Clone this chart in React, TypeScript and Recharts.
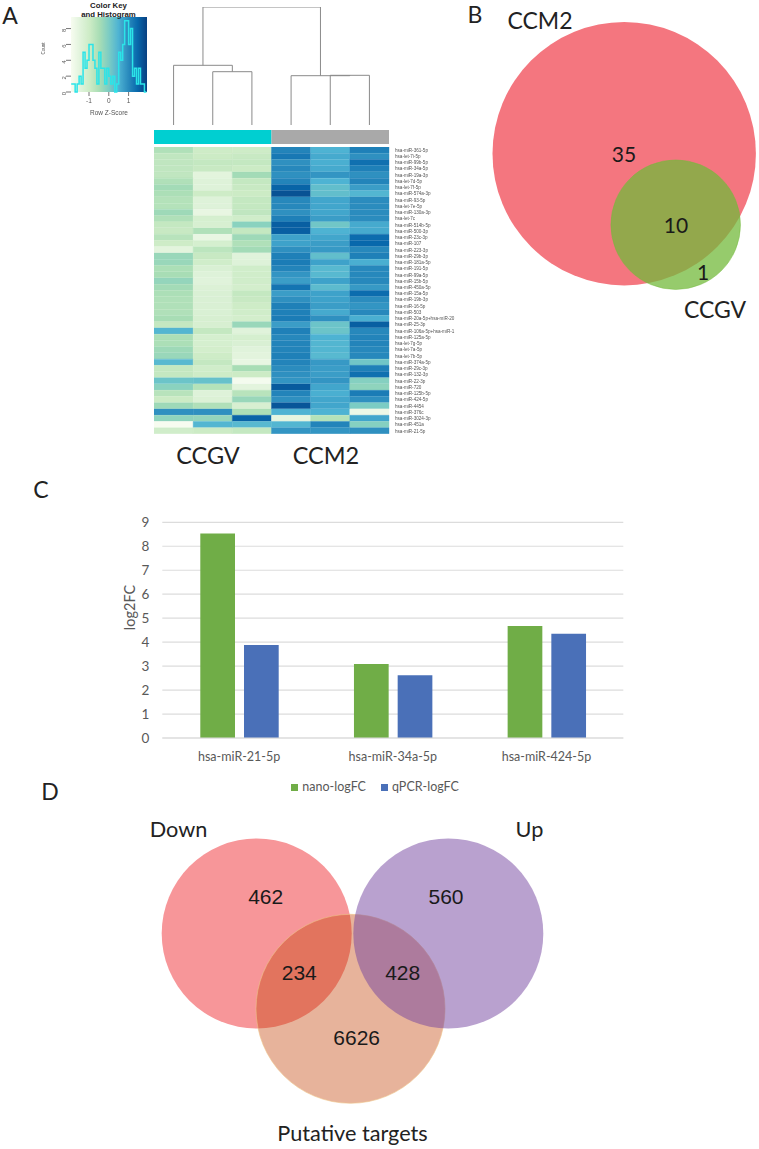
import * as React from 'react'
import {
  Bar,
  BarChart,
  CartesianGrid,
  Cell,
  ComposedChart,
  LabelList,
  Legend,
  Line,
  LineChart,
  ReferenceArea,
  Scatter,
  ScatterChart,
  XAxis,
  YAxis
} from 'recharts'

// panel A: heatmap rows, one z-score list per sample
const miRNAs = [
  'hsa-miR-361-5p', 'hsa-let-7i-5p', 'hsa-miR-99b-5p', 'hsa-miR-34a-5p', 'hsa-miR-19a-3p', 'hsa-let-7d-5p',
  'hsa-let-7f-5p', 'hsa-miR-574a-3p', 'hsa-miR-93-5p', 'hsa-let-7e-5p', 'hsa-miR-130a-3p', 'hsa-let-7c',
  'hsa-miR-514b-5p', 'hsa-miR-500-3p', 'hsa-miR-23c-3p', 'hsa-miR-107', 'hsa-miR-223-3p', 'hsa-miR-29b-3p',
  'hsa-miR-181a-5p', 'hsa-miR-191-5p', 'hsa-miR-99a-5p', 'hsa-miR-15b-5p', 'hsa-miR-450a-5p', 'hsa-miR-15a-5p',
  'hsa-miR-19b-3p', 'hsa-miR-16-5p', 'hsa-miR-503', 'hsa-miR-20a-5p+hsa-miR-20', 'hsa-miR-25-3p',
  'hsa-miR-106a-5p+hsa-miR-1', 'hsa-miR-125a-5p', 'hsa-let-7g-5p', 'hsa-let-7a-5p', 'hsa-let-7b-5p',
  'hsa-miR-374a-5p', 'hsa-miR-29c-3p', 'hsa-miR-132-3p', 'hsa-miR-22-3p', 'hsa-miR-720', 'hsa-miR-125b-5p',
  'hsa-miR-424-5p', 'hsa-miR-4454', 'hsa-miR-376c', 'hsa-miR-3024-3p', 'hsa-miR-451a', 'hsa-miR-21-5p'
]
const ccgv1 = [
  -0.55, -0.75, -0.75, -0.75, -0.75, -0.55, -0.4, -0.5, -0.6, -0.6, -0.35, -0.55, -0.8, -0.85, -0.65, -0.95,
  -1.4, -0.3, -0.3, -0.5, -0.45, -0.25, -0.4, -0.5, -0.55, -0.55, -0.55, -0.45, -0.8, 0.4, -0.5, -0.5, -0.35,
  -0.3, 0.35, -0.8, -0.8, 0.15, -0.15, -0.65, -0.9, -0.35, 0.85, -0.2, -1.8, -1.0
]
const ccgv2 = [
  -0.95, -0.9, -0.8, -0.85, -1.4, -1.3, -1.3, -0.95, -1.3, -1.3, -1.5, -1.1, -1.15, -0.55, -1.5, -1.1, -0.7,
  -0.85, -1.0, -1.2, -1.3, -1.35, -1.25, -1.2, -1.2, -1.2, -1.2, -1.15, -1.15, -0.8, -1.1, -1.1, -1.05, -0.95,
  -0.8, -1.0, -0.95, 0.2, -0.6, -1.3, -1.25, -0.55, 0.85, -0.25, 0.4, -0.9
]
const ccgv3 = [
  -0.95, -0.85, -0.8, -0.9, -0.4, -0.8, -0.85, -0.9, -0.8, -0.8, -0.75, -1.0, -0.15, -0.8, -0.35, -0.55, -0.4,
  -1.35, -1.3, -1.0, -1.0, -1.0, -1.05, -0.8, -0.85, -0.95, -1.0, -1.05, -0.3, -1.35, -1.1, -1.2, -1.35, -1.4,
  -1.5, -0.45, -0.9, -1.75, -1.4, -0.65, -0.3, -1.15, -0.5, 1.4, 0.35, -0.8
]
const ccm1 = [
  1.0, 1.15, 0.85, 0.95, 0.85, 1.0, 1.4, 1.6, 0.95, 0.95, 0.85, 1.05, 1.45, 1.45, 0.65, 0.65, 0.85, 1.05, 1.1,
  1.0, 0.8, 0.7, 1.2, 0.7, 0.85, 1.05, 1.05, 1.1, 0.7, 1.05, 0.95, 1.0, 1.0, 1.05, 1.0, 0.9, 0.85, 0.8, 1.5,
  1.0, 0.85, 1.55, 0.45, -1.45, 0.4, 0.8
]
const ccm2 = [
  0.45, 0.55, 0.5, 0.55, 0.8, 0.45, 0.25, 0.25, 0.6, 0.6, 0.6, 0.7, 0.1, 0.45, 0.6, 0.7, 0.75, 0.25, 0.65, 0.35,
  0.35, 0.65, 0.3, 0.65, 0.65, 0.7, 0.55, 0.85, 0.15, 0.15, 0.45, 0.4, 0.4, 0.35, 0.75, 0.7, 0.7, 0.8, 0.6, 0.5,
  0.6, 0.6, 0.45, -0.6, 1.0, 0.8
]
const ccm3 = [
  1.05, 0.85, 1.25, 1.05, 0.85, 1.0, 0.7, 0.4, 0.9, 0.9, 0.9, 0.9, 0.55, 0.55, 1.3, 1.35, 0.95, 1.05, 0.5, 0.95,
  0.95, 0.95, 0.75, 1.3, 0.9, 0.8, 0.95, 0.5, 1.45, 0.95, 1.0, 1.0, 0.95, 0.95, 0.1, 1.05, 1.25, -0.1, -0.2,
  1.1, 0.85, 0.0, -1.6, 0.6, -0.1, 0.85
]
const samples = [ccgv1, ccgv2, ccgv3, ccm1, ccm2, ccm3]

// panel A: colour key histogram
const histBins = [
  -1.9, -1.8, -1.7, -1.6, -1.5, -1.4, -1.3, -1.2, -1.1, -1, -0.9, -0.8, -0.7, -0.6, -0.5, -0.4, -0.3, -0.2, -0.1, 0,
  0.1, 0.2, 0.3, 0.4, 0.5, 0.6, 0.7, 0.8, 0.9, 1, 1.1, 1.2, 1.3, 1.4, 1.5, 1.6, 1.7, 1.8, 1.9
]
const histCounts = [
  1, 1, 0, 1, 2, 1, 5, 3, 4, 6, 6, 4, 3, 1, 5, 3, 3, 1, 3, 2, 1, 2, 0, 1, 5, 4, 6, 9, 9, 6, 8, 2, 3, 1, 3, 1, 1, 0, 0
]

// panel A: dendrogram merges, leaf position and height
const mergeA = [{ leaf: 1.5, height: 0 }, { leaf: 1.5, height: 5.33 }, { leaf: 2.5, height: 5.33 }, { leaf: 2.5, height: 0 }]
const mergeB = [{ leaf: 0.5, height: 0 }, { leaf: 0.5, height: 5.97 }, { leaf: 2, height: 5.97 }, { leaf: 2, height: 5.33 }]
const mergeC = [{ leaf: 4.5, height: 0 }, { leaf: 4.5, height: 4.97 }, { leaf: 5.5, height: 4.97 }, { leaf: 5.5, height: 0 }]
const mergeD = [{ leaf: 3.5, height: 0 }, { leaf: 3.5, height: 4.93 }, { leaf: 5, height: 4.93 }, { leaf: 5, height: 4.97 }]
const mergeE = [{ leaf: 1.25, height: 5.97 }, { leaf: 1.25, height: 11.8 }, { leaf: 4.25, height: 11.8 }, { leaf: 4.25, height: 4.93 }]
const merges = [mergeA, mergeB, mergeC, mergeD, mergeE]

// panel C
const targets = ['hsa-miR-21-5p', 'hsa-miR-34a-5p', 'hsa-miR-424-5p']
const nanoLogFC = [8.53, 3.09, 4.67]
const qpcrLogFC = [3.88, 2.62, 4.35]

// panels B and D
const overlapB = [35, 10, 1]
const overlapD = [462, 560, 234, 428, 6626]

const GNBU = ['#f7fcf0', '#e0f3db', '#ccebc5', '#a8ddb5', '#7bccc4', '#4eb3d3', '#2b8cbe', '#0868ac', '#084081']
const FONT = 'Lato, sans-serif'
const HELV = '"Liberation Sans", Arial, sans-serif'

// same GnBu ramp R's heatmap.2 was given, z from -1.8 to 1.8
function zColor(z: number) {
  const t = Math.max(0, Math.min(0.9999, (z + 1.8) / 3.6)) * (GNBU.length - 1)
  const i = Math.floor(t)
  const mix = (a: string, b: string, off: number) => {
    const x = parseInt(a.slice(off, off + 2), 16)
    const y = parseInt(b.slice(off, off + 2), 16)
    return Math.round(x + (y - x) * (t - i))
  }
  return `rgb(${mix(GNBU[i], GNBU[i + 1], 1)},${mix(GNBU[i], GNBU[i + 1], 3)},${mix(GNBU[i], GNBU[i + 1], 5)})`
}

function Txt({ x, y, size, children, font = FONT, color = '#222', weight = 400 }: any) {
  return (
    <div
      style={{
        position: 'absolute',
        left: x,
        top: y,
        transform: 'translate(-50%, -50%)',
        fontFamily: font,
        fontSize: size,
        fontWeight: weight,
        color,
        whiteSpace: 'nowrap',
        lineHeight: 1
      }}
    >
      {children}
    </div>
  )
}

function Panel({ left, top, children, blur }: any) {
  return <div style={{ position: 'absolute', left, top, filter: blur ? `blur(${blur}px)` : undefined }}>{children}</div>
}

function ColorKey() {
  const data = histBins.map((bin, i) => ({ bin, count: histCounts[i] }))
  return (
    <ComposedChart width={120} height={125} data={data} margin={{ top: 17, right: 3, bottom: 0, left: 0 }}>
      <defs>
        <linearGradient id="keyRamp" x1="0" y1="0" x2="1" y2="0">
          {GNBU.map((c, i) => (
            <stop key={c} offset={i / (GNBU.length - 1)} stopColor={c} />
          ))}
        </linearGradient>
      </defs>
      <XAxis
        dataKey="bin"
        type="number"
        height={33}
        domain={[-1.91, 1.93]}
        ticks={[-1, 0, 1]}
        tick={{ fontSize: 6.5, fill: '#555', fontFamily: HELV }}
        tickSize={4}
        tickLine={{ stroke: '#777' }}
        axisLine={false}
        label={{ value: 'Row Z-Score', position: 'insideBottom', offset: 10, fontSize: 6.5, fill: '#555', fontFamily: HELV }}
      />
      <YAxis
        type="number"
        domain={[0, 9.46]}
        ticks={[0, 2, 4, 6, 8]}
        width={41}
        tick={{ fontSize: 6, fill: '#555', fontFamily: HELV, angle: -90 }}
        tickSize={5}
        tickLine={{ stroke: '#777' }}
        axisLine={false}
        label={{ value: 'Count', angle: -90, position: 'insideLeft', offset: 13, fontSize: 4.5, fill: '#555', fontFamily: HELV }}
      />
      <ReferenceArea x1={-1.91} x2={1.93} y1={0} y2={9.46} fill="url(#keyRamp)" fillOpacity={1} stroke="none" />
      <Line dataKey="count" type="stepAfter" stroke="#2be4e8" strokeWidth={1.5} dot={false} isAnimationActive={false} />
    </ComposedChart>
  )
}

function Dendrogram() {
  return (
    <LineChart width={235} height={118} margin={{ top: 0, right: 0, bottom: 0, left: 0 }}>
      <XAxis dataKey="leaf" type="number" domain={[0, 6]} hide />
      <YAxis dataKey="height" type="number" domain={[0, 11.8]} hide />
      {merges.map((m, i) => (
        <Line
          key={i}
          data={m}
          dataKey="height"
          stroke="#8a8a8a"
          strokeWidth={1}
          dot={false}
          isAnimationActive={false}
        />
      ))}
    </LineChart>
  )
}

function SideBar() {
  return (
    <BarChart
      width={235}
      height={14}
      layout="vertical"
      data={[{ name: 'group', ccgv: 3, ccm: 3 }]}
      margin={{ top: 0, right: 0, bottom: 0, left: 0 }}
      barCategoryGap={0}
    >
      <XAxis type="number" domain={[0, 6]} hide />
      <YAxis type="category" dataKey="name" hide />
      <Bar dataKey="ccgv" stackId="g" fill="#00cfd1" isAnimationActive={false} />
      <Bar dataKey="ccm" stackId="g" fill="#a9a9a9" isAnimationActive={false} />
    </BarChart>
  )
}

function Heatmap() {
  const rows = miRNAs.map(name => ({ name, s0: 1, s1: 1, s2: 1, s3: 1, s4: 1, s5: 1 }))
  return (
    <BarChart
      width={315}
      height={287}
      layout="vertical"
      data={rows}
      margin={{ top: 0, right: 0, bottom: 0, left: 0 }}
      barCategoryGap={0}
    >
      <XAxis type="number" domain={[0, 6]} hide />
      <YAxis
        type="category"
        dataKey="name"
        orientation="right"
        width={80}
        interval={0}
        tickLine={false}
        axisLine={false}
        tickMargin={6}
        tickSize={0}
        tick={{ fontSize: 4.6, fill: '#555', fontFamily: HELV }}
      />
      {samples.map((values, s) => (
        <Bar key={s} dataKey={`s${s}`} stackId="heat" isAnimationActive={false}>
          {values.map((z, i) => (
            <Cell key={i} fill={zColor(z)} stroke={zColor(z)} strokeWidth={0.4} />
          ))}
        </Bar>
      ))}
    </BarChart>
  )
}

function FoldChange() {
  const data = targets.map((name, i) => ({ name, nano: nanoLogFC[i], qpcr: qpcrLogFC[i] }))
  return (
    <BarChart
      width={560}
      height={290}
      data={data}
      margin={{ top: 12.3, right: 36.7, bottom: 17, left: 18 }}
      barGap={9}
      barSize={34.7}
    >
      <CartesianGrid vertical={false} stroke="#dcdcdc" strokeWidth={1.2} />
      <XAxis
        dataKey="name"
        tickLine={false}
        axisLine={{ stroke: '#dcdcdc', strokeWidth: 1.2 }}
        tickMargin={8.5}
        tick={{ fontSize: 12.5, fill: '#595959', fontFamily: FONT }}
      />
      <YAxis
        type="number"
        domain={[0, 9]}
        ticks={[0, 1, 2, 3, 4, 5, 6, 7, 8, 9]}
        width={44.3}
        tickLine={false}
        axisLine={false}
        tickMargin={7}
        tick={{ fontSize: 13.5, fill: '#595959', fontFamily: FONT }}
        label={{ value: 'log2FC', angle: -90, position: 'insideLeft', offset: 12, fontSize: 14.5, fill: '#595959', fontFamily: FONT }}
      />
      <Legend
        verticalAlign="bottom"
        iconType="square"
        iconSize={7}
        wrapperStyle={{ fontFamily: FONT, fontSize: 12.5, color: '#595959', bottom: 6, paddingLeft: 12 }}
        formatter={(value: string) => <span style={{ color: '#595959', paddingRight: 5 }}>{value}</span>}
      />
      <Bar dataKey="nano" name="nano-logFC" fill="#70ad47" isAnimationActive={false} />
      <Bar dataKey="qpcr" name="qPCR-logFC" fill="#4a70b8" isAnimationActive={false} />
    </BarChart>
  )
}

function VennChart({ left, top, width, height, circles, counts, fontFamily, fontSize }: any) {
  const disc = (props: any) => {
    const { cx, cy, payload } = props
    return <circle cx={cx} cy={cy} r={payload.r} fill={payload.fill} stroke={payload.edge} strokeWidth={0.6} />
  }
  return (
    <Panel left={left} top={top}>
      <ScatterChart width={width} height={height} margin={{ top: 0, right: 0, bottom: 0, left: 0 }}>
        <XAxis dataKey="x" type="number" domain={[left, left + width]} hide />
        <YAxis dataKey="y" type="number" domain={[top, top + height]} reversed hide />
        {circles.map((c: any, i: number) => (
          <Scatter key={i} data={[c]} shape={disc} isAnimationActive={false} />
        ))}
        <Scatter data={counts} shape={() => <g />} isAnimationActive={false}>
          <LabelList dataKey="count" position="center" fill="#1a1a1a" fontSize={fontSize} fontFamily={fontFamily} />
        </Scatter>
      </ScatterChart>
    </Panel>
  )
}

const circlesB = [
  { x: 624.2, y: 153.7, r: 131.7, fill: '#f4767f', edge: 'none' },
  { x: 675.7, y: 224.7, r: 64.8, fill: 'rgba(115,186,59,0.75)', edge: 'rgba(115,186,59,0.75)' }
]
const positionsB = [
  { x: 624, y: 155 },
  { x: 676, y: 226 },
  { x: 703, y: 273 }
]
const circlesD = [
  { x: 256.7, y: 933.5, r: 95, fill: '#f79699', edge: 'none' },
  { x: 350.5, y: 1008.8, r: 94.5, fill: 'rgba(195,64,5,0.4)', edge: '#eec489' },
  { x: 448.3, y: 933.5, r: 95, fill: 'rgba(115,67,159,0.5)', edge: 'none' }
]
const positionsD = [
  { x: 265.7, y: 897 },
  { x: 446, y: 897 },
  { x: 299.3, y: 973 },
  { x: 402.7, y: 973 },
  { x: 356.7, y: 1037.7 }
]

export default function App() {
  return (
    <div style={{ position: 'absolute', left: 0, top: 0, width: 759, height: 1149, background: '#fff', overflow: 'hidden' }}>
      <Txt x={10} y={15} size={23}>A</Txt>
      <Txt x={475} y={14} size={23}>B</Txt>
      <Txt x={41} y={489} size={23}>C</Txt>
      <Txt x={50} y={791} size={23}>D</Txt>

      <Panel left={30} top={0} blur={0.4}><ColorKey /></Panel>
      <div style={{ position: 'absolute', left: 108.5, top: 1, width: 0, textAlign: 'center' }}>
        <div style={{ transform: 'translateX(-50%)', width: 80, fontFamily: HELV, fontWeight: 700, fontSize: 7.8, lineHeight: '9px', color: '#222' }}>
          Color Key
          <br />
          and Histogram
        </div>
      </div>
      <Panel left={154} top={7}><Dendrogram /></Panel>
      <Panel left={154} top={130}><SideBar /></Panel>
      <Panel left={154} top={147} blur={0.5}><Heatmap /></Panel>
      <Txt x={208} y={456} size={23.5}>CCGV</Txt>
      <Txt x={326} y={456} size={23.5}>CCM2</Txt>

      <VennChart
        left={470}
        top={0}
        width={289}
        height={300}
        circles={circlesB}
        counts={positionsB.map((p, i) => ({ ...p, count: overlapB[i] }))}
        fontFamily={FONT}
        fontSize={21}
      />
      <Txt x={540} y={20} size={23}>CCM2</Txt>
      <Txt x={715} y={309} size={23}>CCGV</Txt>

      <Panel left={100} top={510}><FoldChange /></Panel>

      <VennChart
        left={150}
        top={830}
        width={400}
        height={280}
        circles={circlesD}
        counts={positionsD.map((p, i) => ({ ...p, count: overlapD[i] }))}
        fontFamily={HELV}
        fontSize={21}
      />
      <Txt x={178.5} y={830} size={21.7}>Down</Txt>
      <Txt x={529.5} y={830} size={21.7}>Up</Txt>
      <Txt x={352.5} y={1134} size={21.7}>Putative targets</Txt>
    </div>
  )
}
